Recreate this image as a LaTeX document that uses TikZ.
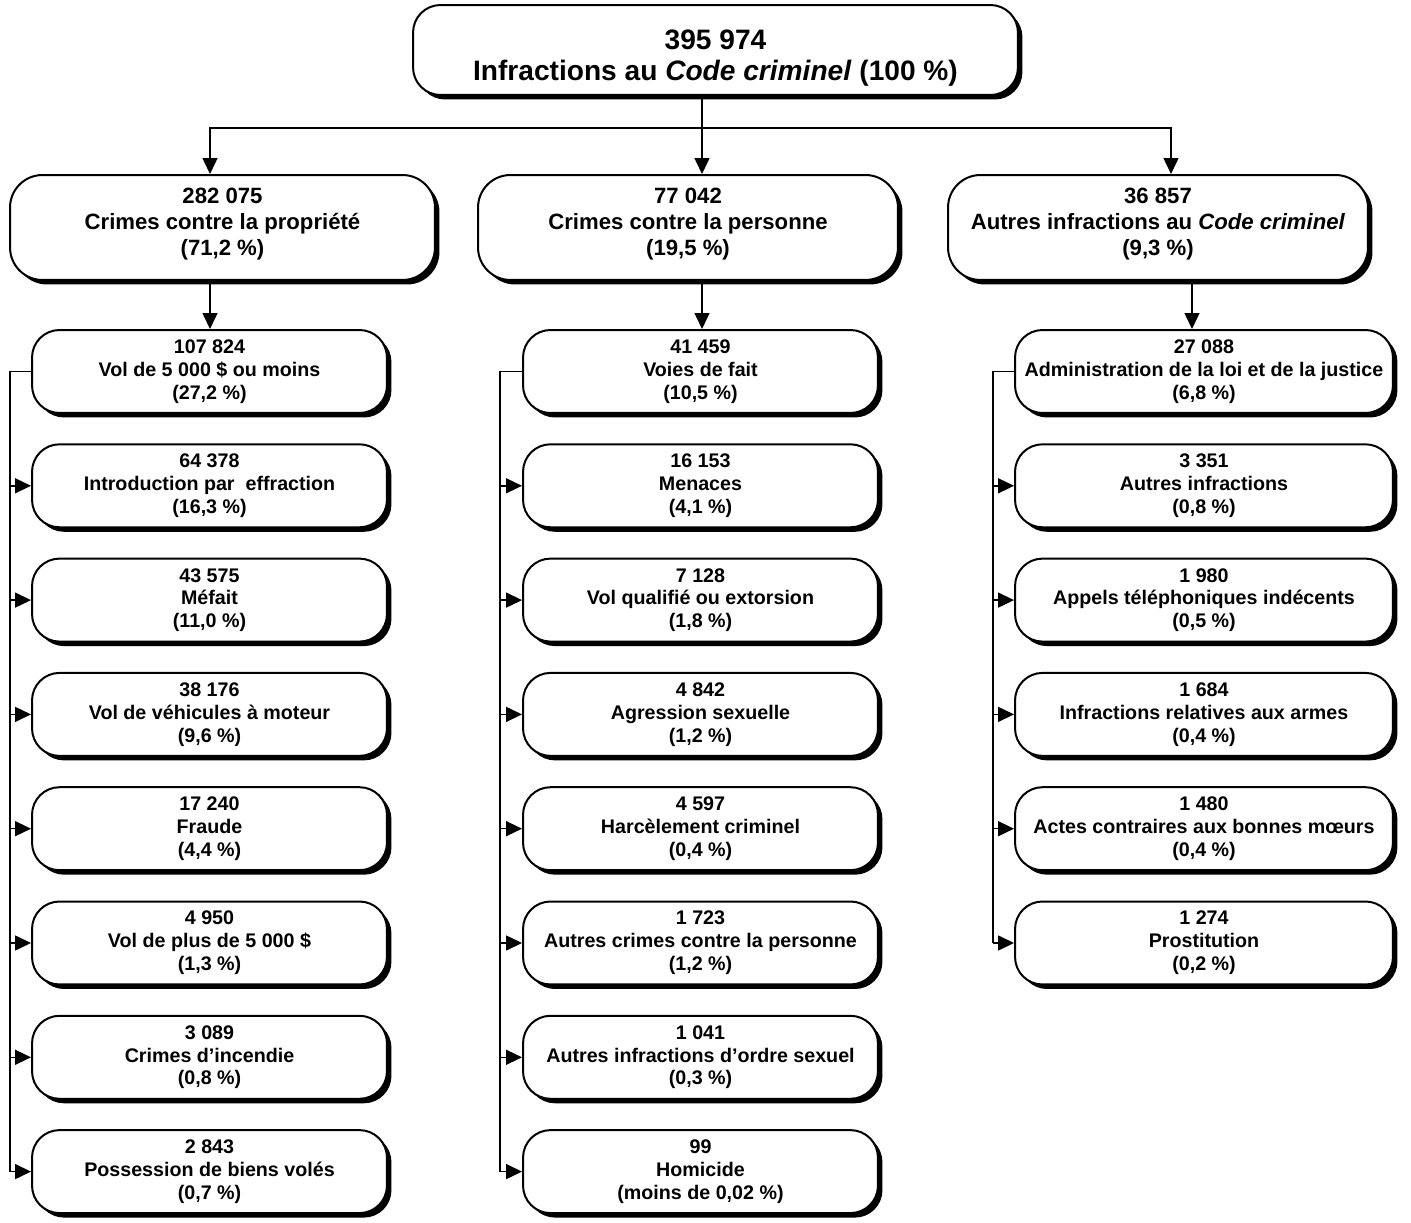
\documentclass[tikz,border=0pt]{standalone}
\usepackage{fontspec}
\setmainfont{Liberation Sans}
\usepackage{tikz}
\usetikzlibrary{arrows.meta,shadows,positioning}

\tikzset{
  box/.style={draw=black, line width=0.04cm, fill=white, align=center,
    drop shadow={shadow xshift=0.09cm, shadow yshift=-0.09cm, opacity=1, fill=black}},
  topbox/.style={box, rounded corners=0.55cm, minimum width=12.1cm, minimum height=1.8cm,
    font=\bfseries\fontsize{16}{17.6}\selectfont},
  groupbox/.style={box, rounded corners=0.65cm, minimum width=8.4cm, minimum height=2.1cm,
    font=\bfseries\fontsize{12.6}{14.7}\selectfont},
  itembox/.style={box, rounded corners=0.55cm, minimum width=7.1cm, minimum height=1.66cm,
    font=\bfseries\fontsize{11.2}{13}\selectfont},
  link/.style={-{Triangle[length=0.32cm,width=0.3cm]}, line width=0.03cm},
  branch/.style={line width=0.03cm}
}

\begin{document}
\begin{tikzpicture}[x=0.02cm,y=-0.02cm]
\useasboundingbox (0,0) rectangle (1411,1223);

%Total
\node[topbox] (total) at (715.5,50) {\rule{0pt}{0.7cm}395 974\\Infractions au \textit{Code criminel} (100 \%)};

%Groups
\node[groupbox, minimum width=8.5cm] (prop) at (222.5,227.5) {282 075\\Crimes contre la propriété\\(71,2 \%)\rule[-0.24cm]{0pt}{0pt}};
\node[groupbox] (pers) at (688,227.5) {77 042\\Crimes contre la personne\\(19,5 \%)\rule[-0.24cm]{0pt}{0pt}};
\node[groupbox] (autres) at (1158,227.5) {36 857\\Autres infractions au \textit{Code criminel}\\(9,3 \%)\rule[-0.24cm]{0pt}{0pt}};

%Crimes contre la propriete
\node[itembox] (p1) at (209.5,371.5) {107 824\\Vol de 5 000 \$ ou moins\\(27,2 \%)};
\node[itembox] (p2) at (209.5,485.8) {64 378\\Introduction par~~effraction\\(16,3 \%)};
\node[itembox] (p3) at (209.5,600.1) {43 575\\Méfait\\(11,0 \%)};
\node[itembox] (p4) at (209.5,714.4) {38 176\\Vol de véhicules à moteur\\(9,6 \%)};
\node[itembox] (p5) at (209.5,828.7) {17 240\\Fraude\\(4,4 \%)};
\node[itembox] (p6) at (209.5,943.0) {4 950\\Vol de plus de 5 000 \$\\(1,3 \%)};
\node[itembox] (p7) at (209.5,1057.3) {3 089\\Crimes d’incendie\\(0,8 \%)};
\node[itembox] (p8) at (209.5,1171.6) {2 843\\Possession de biens volés\\(0,7 \%)};

%Crimes contre la personne
\node[itembox] (q1) at (700.5,371.5) {41 459\\Voies de fait\\(10,5 \%)};
\node[itembox] (q2) at (700.5,485.8) {16 153\\Menaces\\(4,1 \%)};
\node[itembox] (q3) at (700.5,600.1) {7 128\\Vol qualifié ou extorsion\\(1,8 \%)};
\node[itembox] (q4) at (700.5,714.4) {4 842\\Agression sexuelle\\(1,2 \%)};
\node[itembox] (q5) at (700.5,828.7) {4 597\\Harcèlement criminel\\(0,4 \%)};
\node[itembox] (q6) at (700.5,943.0) {1 723\\Autres crimes contre la personne\\(1,2 \%)};
\node[itembox] (q7) at (700.5,1057.3) {1 041\\Autres infractions d’ordre sexuel\\(0,3 \%)};
\node[itembox] (q8) at (700.5,1171.6) {99\\Homicide\\(moins de 0,02 \%)};

%Autres infractions
\node[itembox, minimum width=7.56cm] (r1) at (1204,371.5) {27 088\\Administration de la loi et de la justice\\(6,8 \%)};
\node[itembox, minimum width=7.56cm] (r2) at (1204,485.8) {3 351\\Autres infractions\\(0,8 \%)};
\node[itembox, minimum width=7.56cm] (r3) at (1204,600.1) {1 980\\Appels téléphoniques indécents\\(0,5 \%)};
\node[itembox, minimum width=7.56cm] (r4) at (1204,714.4) {1 684\\Infractions relatives aux armes\\(0,4 \%)};
\node[itembox, minimum width=7.56cm] (r5) at (1204,828.7) {1 480\\Actes contraires aux bonnes mœurs\\(0,4 \%)};
\node[itembox, minimum width=7.56cm] (r6) at (1204,943.0) {1 274\\Prostitution\\(0,2 \%)};

%Total to groups
\coordinate (hub) at (702,128);
\draw[link] (total.south -| hub) -- (pers.north -| hub);
\draw[link] (hub) -| (prop.north -| 210,0);
\draw[link] (hub) -| (autres.north -| 1171,0);

%Groups to first items
\draw[link] (prop.south -| 210,0) -- (p1.north -| 210,0);
\draw[link] (pers.south -| 702,0) -- (q1.north -| 702,0);
\draw[link] (autres.south -| 1192,0) -- (r1.north -| 1192,0);

%Branch, propriete
\draw[branch] (p1.west) -- (p1.west -| 10,0) -- (p8.west -| 10,0);
\draw[link] (p2.west -| 10,0) -- (p2.west);
\draw[link] (p3.west -| 10,0) -- (p3.west);
\draw[link] (p4.west -| 10,0) -- (p4.west);
\draw[link] (p5.west -| 10,0) -- (p5.west);
\draw[link] (p6.west -| 10,0) -- (p6.west);
\draw[link] (p7.west -| 10,0) -- (p7.west);
\draw[link] (p8.west -| 10,0) -- (p8.west);

%Branch, personne
\draw[branch] (q1.west) -- (q1.west -| 500,0) -- (q8.west -| 500,0);
\draw[link] (q2.west -| 500,0) -- (q2.west);
\draw[link] (q3.west -| 500,0) -- (q3.west);
\draw[link] (q4.west -| 500,0) -- (q4.west);
\draw[link] (q5.west -| 500,0) -- (q5.west);
\draw[link] (q6.west -| 500,0) -- (q6.west);
\draw[link] (q7.west -| 500,0) -- (q7.west);
\draw[link] (q8.west -| 500,0) -- (q8.west);

%Branch, autres
\draw[branch] (r1.west) -- (r1.west -| 993,0) -- (r6.west -| 993,0);
\draw[link] (r2.west -| 993,0) -- (r2.west);
\draw[link] (r3.west -| 993,0) -- (r3.west);
\draw[link] (r4.west -| 993,0) -- (r4.west);
\draw[link] (r5.west -| 993,0) -- (r5.west);
\draw[link] (r6.west -| 993,0) -- (r6.west);
\end{tikzpicture}
\end{document}
